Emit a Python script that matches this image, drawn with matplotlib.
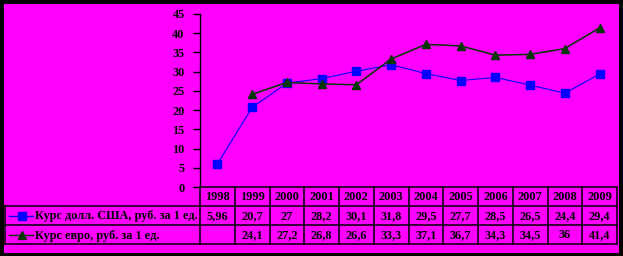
import matplotlib.pyplot as plt
import numpy as np
from matplotlib.patches import Rectangle
from matplotlib.transforms import blended_transform_factory

years = ['1998', '1999', '2000', '2001', '2002', '2003', '2004', '2005',
         '2006', '2007', '2008', '2009']
usd = [5.96, 20.7, 27, 28.2, 30.1, 31.8, 29.5, 27.7, 28.5, 26.5, 24.4, 29.4]
eur = [np.nan, 24.1, 27.2, 26.8, 26.6, 33.3, 37.1, 36.7, 34.3, 34.5, 36, 41.4]
usd_label = 'Курс долл. США, руб. за 1 ед.'
eur_label = 'Курс евро, руб. за 1 ед.'

W, H = 623, 256
font = dict(family='Liberation Serif', weight='bold', size=8.8)
blue = '#0000ff'
green = '#003800'

fig = plt.figure(figsize=(W / 100, H / 100), dpi=100, facecolor='black')
fig.patches.append(Rectangle((4 / W, 3 / H), 615 / W, 249 / H,
                             transform=fig.transFigure, facecolor='#ff00ff',
                             edgecolor='none', zorder=-5))

# plot area in pixels: x 200..617, y 14..187 (from top)
ax = fig.add_axes([200 / W, (H - 187) / H, 417 / W, 173 / H])
ax.set_facecolor('none')
x = np.arange(len(years))
ax.plot(x, usd, color=blue, lw=0.8, marker='s', ms=6, mfc=blue, mec=blue,
        clip_on=False, zorder=3)
ax.plot(x, eur, color=green, lw=1.1, marker='^', ms=6, mfc=green, mec=green,
        clip_on=False, zorder=4)
ax.set_xlim(-0.5, len(years) - 0.5)
ax.set_ylim(0, 45)
ax.set_yticks(range(0, 50, 5))
ax.set_xticks([])
for s in ['top', 'right', 'bottom']:
    ax.spines[s].set_visible(False)
ax.spines['left'].set_linewidth(1)
ax.tick_params(axis='y', length=5, width=1, pad=6, direction='out')
ax.set_yticklabels([str(v) for v in range(0, 50, 5)], **font)

# data table under the plot: x in data units, y in pixels from top
tr = blended_transform_factory(ax.transData, fig.transFigure)
ftr = fig.transFigure
def fy(py):
    return (H - py) / H

rows = [187, 206, 225, 244]
lw = 1.1
ax.plot([-0.5, 11.5], [fy(187)] * 2, color='black', lw=lw, transform=tr, clip_on=False)
for py in rows[1:]:
    fig.add_artist(plt.Line2D([5 / W, 617 / W], [fy(py)] * 2, color='black', lw=lw, transform=ftr))
for i in range(len(years) + 1):
    ax.plot([i - 0.5] * 2, [fy(187), fy(244)], color='black', lw=lw, transform=tr, clip_on=False)
fig.add_artist(plt.Line2D([5 / W] * 2, [fy(206), fy(244)], color='black', lw=lw, transform=ftr))

for i, yr in enumerate(years):
    ax.text(i, fy(200.5), yr, ha='center', va='baseline', transform=tr, **font)
    for py, vals in [(219.5, usd), (238.5, eur)]:
        v = vals[i]
        if not np.isnan(v):
            ax.text(i, fy(py), f'{v:g}'.replace('.', ','), ha='center',
                    va='baseline', transform=tr, **font)

# legend keys
for py, col, mk, lab in [(215.5, blue, 's', usd_label), (234.5, green, '^', eur_label)]:
    fig.add_artist(plt.Line2D([9 / W, 33 / W], [fy(py)] * 2, color=col, lw=1,
                              transform=ftr))
    fig.add_artist(plt.Line2D([21.5 / W], [fy(py)], color=col, marker=mk, ms=6,
                              mfc=col, mec=col, transform=ftr))
    fig.text(35 / W, fy(py + 4), lab, ha='left', va='baseline', **font)

fig.savefig('out.png', dpi=100, facecolor=fig.get_facecolor())
